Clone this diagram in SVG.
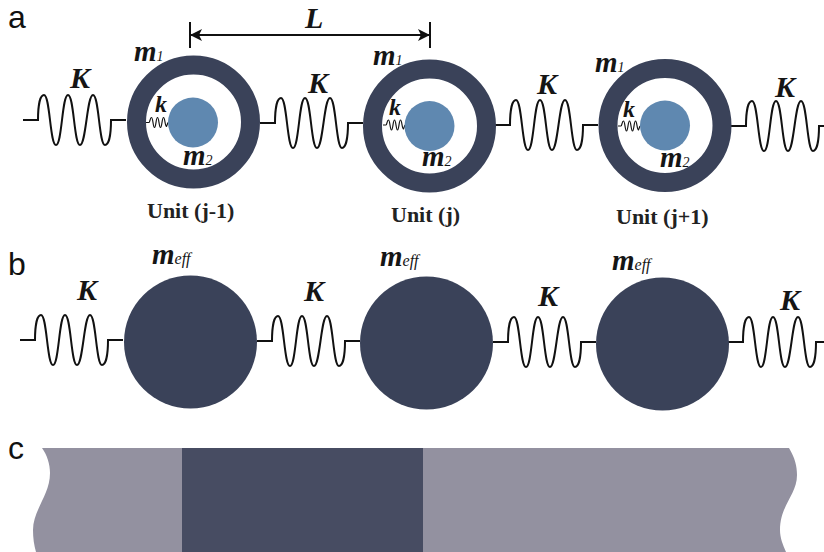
<svg xmlns="http://www.w3.org/2000/svg" width="824" height="552" viewBox="0 0 824 552">
<style>
.ring{fill:none;stroke:#3a4259;stroke-width:19}
.in{fill:#5f88b0}
.solid{fill:#3a4259}
.sp{fill:none;stroke:#111;stroke-width:2}
.sk{fill:none;stroke:#111;stroke-width:1.200}
.dim{fill:none;stroke:#111;stroke-width:2}
.tag{font-family:"Liberation Sans",Arial,sans-serif;font-size:32px;fill:#111}
.K{font-family:"Liberation Serif",serif;font-style:italic;font-weight:bold;font-size:30px;fill:#151515}
.m{font-family:"Liberation Serif",serif;font-style:italic;font-weight:bold;font-size:29px;fill:#151515}
.k{font-family:"Liberation Serif",serif;font-style:italic;font-weight:bold;font-size:24px;fill:#151515}
.s{font-size:14px;font-weight:normal}
.e{font-size:16px}
.u{font-family:"Liberation Serif",serif;font-weight:bold;font-size:22px;fill:#222}
</style>
<defs>
<path id="spring" class="sp" d="M0 0H15C15 -14 17 -25 21 -25C27 -25 27 25 33 25C39 25 39 -25 45 -25C51 -25 51 25 57 25C63 25 64 -25 70 -25C76 -25 76 25 82 25C86 25 88 14 88 0H103"/>
<path id="small" class="sk" d="M0 0H3C4 0 4 -5 5.500 -5C7 -5 7 5 8.500 5C10 5 10 -5 11.500 -5C13 -5 13 5 14.500 5C16 5 16 -5 17.500 -5C19 -5 19 4 20.500 4L22 0"/>
<marker id="ah" markerWidth="13" markerHeight="14" refX="12" refY="6" orient="auto-start-reverse" markerUnits="userSpaceOnUse"><path d="M0 0L12 6L0 12L3 6Z" fill="#111"/></marker>
</defs>
<rect width="824" height="552" fill="#fff"/>
<text class="tag" x="8" y="28">a</text>
<text class="tag" x="8" y="275">b</text>
<text class="tag" x="8" y="459">c</text>
<g id="connectors">
<use href="#spring" x="23" y="120"/>
<use href="#spring" x="260" y="123"/>
<use href="#spring" x="495" y="125"/>
<use href="#spring" x="731" y="126"/>
<use href="#spring" x="20" y="340"/>
<use href="#spring" x="257" y="341"/>
<use href="#spring" x="493" y="342"/>
<use href="#spring" x="728" y="342"/>
<use href="#small" x="146" y="122.500"/>
<use href="#small" x="383" y="125"/>
<use href="#small" x="618" y="126"/>
<path class="dim" d="M190 35H430" marker-start="url(#ah)" marker-end="url(#ah)"/>
<path class="dim" d="M190 22V48M430 22V48"/>
</g>
<text class="K" x="305" y="28">L</text>
<text class="K" x="70" y="88">K</text>
<text class="K" x="308" y="93">K</text>
<text class="K" x="537" y="94">K</text>
<text class="K" x="775" y="97">K</text>
<text class="K" x="77" y="300">K</text>
<text class="K" x="304" y="301">K</text>
<text class="K" x="538" y="306">K</text>
<text class="K" x="780" y="310">K</text>
<g id="unit-j-1">
<circle class="ring" cx="193.500" cy="122" r="57"/><circle class="in" cx="193" cy="122.500" r="25"/>
<text class="m" x="134" y="61">m<tspan class="s">1</tspan></text>
<text class="k" x="155" y="112">k</text>
<text class="m" x="183" y="165">m<tspan class="s">2</tspan></text>
<text class="u" x="147" y="218">Unit (j-1)</text>
</g>
<g id="unit-j">
<circle class="ring" cx="429.500" cy="126" r="57"/><circle class="in" cx="429.500" cy="126" r="25"/>
<text class="m" x="373" y="65">m<tspan class="s">1</tspan></text>
<text class="k" x="389" y="115">k</text>
<text class="m" x="422" y="166">m<tspan class="s">2</tspan></text>
<text class="u" x="391" y="222">Unit (j)</text>
</g>
<g id="unit-j1">
<circle class="ring" cx="665" cy="125.500" r="57"/><circle class="in" cx="665" cy="125.500" r="25"/>
<text class="m" x="595" y="72">m<tspan class="s">1</tspan></text>
<text class="k" x="623" y="117">k</text>
<text class="m" x="660" y="167">m<tspan class="s">2</tspan></text>
<text class="u" x="616" y="224">Unit (j+1)</text>
</g>
<g id="eff-1"><circle class="solid" cx="190.500" cy="342" r="66.500"/><text class="m" x="152" y="264">m<tspan class="s e">eff</tspan></text></g>
<g id="eff-2"><circle class="solid" cx="426.500" cy="343" r="66.500"/><text class="m" x="380" y="266">m<tspan class="s e">eff</tspan></text></g>
<g id="eff-3"><circle class="solid" cx="662.500" cy="344" r="66.500"/><text class="m" x="612" y="270">m<tspan class="s e">eff</tspan></text></g>
<g id="bar">
<path fill="#9391a0" d="M42 448H789C795 458 797 466 797 475C797 495 780 505 780 530C780 538 783 545 786 552H36C34 545 33 538 33 530C33 510 50 495 50 473C50 464 47 455 42 448Z"/>
<rect x="182" y="448" width="241" height="104" fill="#474c62"/>
</g>
</svg>
